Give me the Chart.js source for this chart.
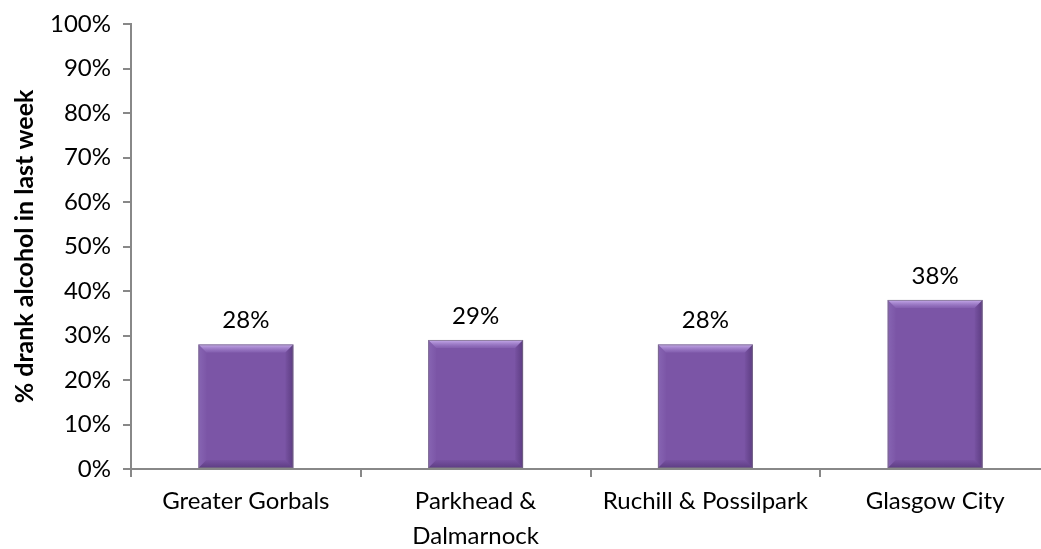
<!DOCTYPE html>
<html><head><meta charset="utf-8">
<script src="https://cdn.jsdelivr.net/npm/chart.js@4.4.0/dist/chart.umd.min.js"></script>
<style>html,body{margin:0;padding:0;background:#fff;overflow:hidden}#wrap{width:1041px;height:549px;overflow:hidden}</style>
</head><body><div id="wrap"><canvas id="c" width="1050" height="549"></canvas></div>
<script>
const categories = ["Greater Gorbals", ["Parkhead &", "Dalmarnock"], "Ruchill & Possilpark", "Glasgow City"];
const values = [28, 29, 28, 38];
const valueLabels = ["28%", "29%", "28%", "38%"];
const yTitle = "% drank alcohol in last week";
const FONT = "Lato, 'Liberation Sans', sans-serif";

const bevel = {
  id: 'bevel',
  afterDatasetsDraw(chart) {
    const ctx = chart.ctx;
    const meta = chart.getDatasetMeta(0);
    meta.data.forEach((bar, i) => {
      const x0 = bar.x - bar.width / 2, x1 = bar.x + bar.width / 2;
      const y0 = bar.y, y1 = bar.base;
      const b = 8;
      ctx.save();
      let g = ctx.createLinearGradient(0, y0, 0, y0 + b);
      g.addColorStop(0, 'rgba(215,190,250,0.85)'); g.addColorStop(1, 'rgba(170,140,215,0.2)');
      ctx.fillStyle = g;
      ctx.beginPath(); ctx.moveTo(x0, y0); ctx.lineTo(x1, y0); ctx.lineTo(x1 - b, y0 + b); ctx.lineTo(x0 + b, y0 + b); ctx.closePath(); ctx.fill();
      g = ctx.createLinearGradient(x0, 0, x0 + b, 0);
      g.addColorStop(0, 'rgba(150,120,195,0.45)'); g.addColorStop(1, 'rgba(150,120,195,0.05)');
      ctx.fillStyle = g;
      ctx.beginPath(); ctx.moveTo(x0, y0); ctx.lineTo(x0 + b, y0 + b); ctx.lineTo(x0 + b, y1 - b); ctx.lineTo(x0, y1); ctx.closePath(); ctx.fill();
      g = ctx.createLinearGradient(x1, 0, x1 - b, 0);
      g.addColorStop(0, 'rgba(55,30,85,0.45)'); g.addColorStop(1, 'rgba(55,30,85,0.05)');
      ctx.fillStyle = g;
      ctx.beginPath(); ctx.moveTo(x1, y0); ctx.lineTo(x1 - b, y0 + b); ctx.lineTo(x1 - b, y1 - b); ctx.lineTo(x1, y1); ctx.closePath(); ctx.fill();
      g = ctx.createLinearGradient(0, y1, 0, y1 - b);
      g.addColorStop(0, 'rgba(50,25,80,0.4)'); g.addColorStop(1, 'rgba(50,25,80,0.05)');
      ctx.fillStyle = g;
      ctx.beginPath(); ctx.moveTo(x0, y1); ctx.lineTo(x0 + b, y1 - b); ctx.lineTo(x1 - b, y1 - b); ctx.lineTo(x1, y1); ctx.closePath(); ctx.fill();
      ctx.strokeStyle = 'rgba(120,110,130,0.7)'; ctx.lineWidth = 1;
      ctx.strokeRect(x0 + 0.5, y0 + 0.5, bar.width - 1, y1 - y0 - 1);
      ctx.fillStyle = '#000';
      ctx.font = "24px " + FONT;
      ctx.textAlign = 'center'; ctx.textBaseline = 'middle';
      ctx.fillText(valueLabels[i], bar.x, y0 - 24);
      ctx.restore();
    });
  }
};

new Chart(document.getElementById('c'), {
  type: 'bar',
  data: {
    labels: categories,
    datasets: [{
      data: values,
      backgroundColor: '#7B55A6',
      borderWidth: 0,
      categoryPercentage: 1,
      barPercentage: 0.413
    }]
  },
  options: {
    responsive: false,
    animation: false,
    devicePixelRatio: 1,
    layout: { padding: { left: 10, right: 0, top: 6, bottom: 0 } },
    plugins: { legend: { display: false }, tooltip: { enabled: false } },
    scales: {
      x: {
        afterFit: s => { s.height = 80; },
        grid: { display: true, drawOnChartArea: false, offset: true, color: '#888', tickLength: 8, tickColor: '#888', lineWidth: 2 },
        border: { color: '#888', width: 2 },
        ticks: { color: '#000', font: { family: FONT, size: 24, lineHeight: 1.45 }, padding: 7, maxRotation: 0, autoSkip: false }
      },
      y: {
        min: 0, max: 100,
        afterFit: s => { s.width = 121; },
        grid: { display: true, drawOnChartArea: false, color: '#888', tickLength: 8, tickColor: '#888', lineWidth: 2 },
        border: { color: '#888', width: 2 },
        ticks: { stepSize: 10, color: '#000', font: { family: FONT, size: 24, lineHeight: 1.0 }, padding: 12, callback: v => v + '%' },
        title: { display: true, text: yTitle, color: '#000', font: { family: FONT, size: 25, weight: 'bold' }, padding: { top: 0, bottom: 0 } }
      }
    }
  },
  plugins: [bevel]
});
</script>
</body></html>
